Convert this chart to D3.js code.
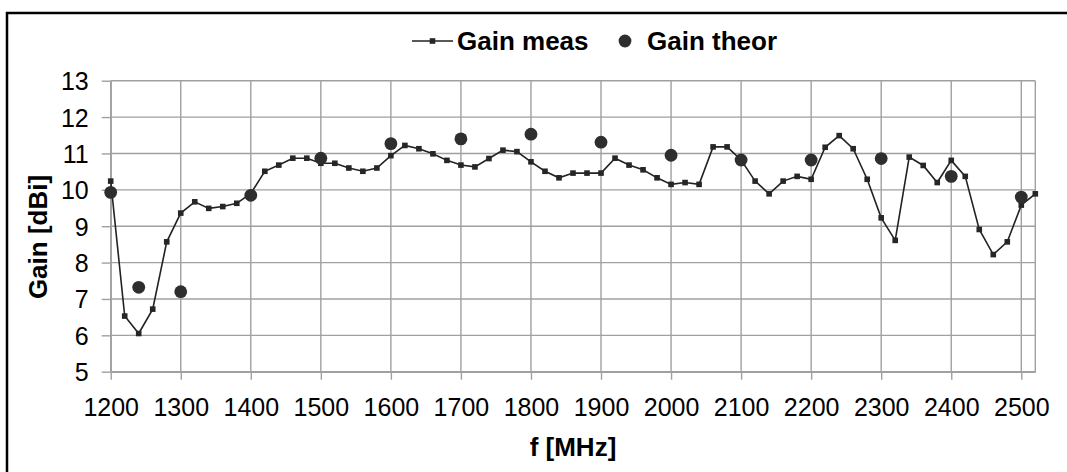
<!DOCTYPE html>
<html>
<head>
<meta charset="utf-8">
<script src="https://cdn.jsdelivr.net/npm/d3@7"></script>
<style>
	body { margin: 0; background: #fff; }
	svg { display: block; font-family: 'Liberation Sans', Arial, sans-serif; }
</style>
</head>
<body>
<div class="chart"></div>
<script>
// Data
const measFreq = d3.range(1200, 2521, 20);
const measGain = [
	10.24, 6.53, 6.05, 6.72, 8.57, 9.36, 9.67, 9.49, 9.54, 9.63,
	9.90, 10.51, 10.68, 10.87, 10.87, 10.73, 10.73, 10.60, 10.51, 10.60,
	10.94, 11.22, 11.13, 10.99, 10.81, 10.68, 10.63, 10.86, 11.09, 11.05,
	10.77, 10.51, 10.33, 10.46, 10.46, 10.46, 10.87, 10.68, 10.55, 10.33,
	10.15, 10.20, 10.15, 11.18, 11.18, 10.82, 10.24, 9.89, 10.24, 10.37,
	10.29, 11.17, 11.49, 11.13, 10.29, 9.23, 8.61, 10.90, 10.67, 10.20,
	10.81, 10.37, 8.91, 8.22, 8.57, 9.58, 9.89
];
const theorFreq = [1200, 1240, 1300, 1400, 1500, 1600, 1700, 1800, 1900, 2000, 2100, 2200, 2300, 2400, 2500];
const theorGain = [9.93, 7.32, 7.20, 9.85, 10.87, 11.27, 11.40, 11.53, 11.31, 10.95, 10.82, 10.82, 10.86, 10.37, 9.80];
const xTicks = d3.range(1200, 2501, 100);
const yTicks = d3.range(5, 14, 1);

const W = 1067, H = 472;
const plot = {left: 110.7, right: 1035.3, top: 80.7, bottom: 371.7};

const svg = d3.select('.chart').append('svg')
	.attr('width', W)
	.attr('height', H);

// outer frame
svg.append('rect')
	.attr('x', 7).attr('y', 13)
	.attr('width', W + 10).attr('height', H + 10)
	.attr('fill', 'none')
	.attr('stroke', '#000')
	.attr('stroke-width', 2.5);

const x = d3.scaleLinear().domain([1200, 2520]).range([plot.left, plot.right]);
const y = d3.scaleLinear().domain([5, 13]).range([plot.bottom, plot.top]);

const gridColor = '#a0a0a0';

// gridlines
svg.append('g')
	.selectAll('line')
	.data(yTicks)
	.join('line')
	.attr('x1', plot.left).attr('x2', plot.right)
	.attr('y1', d => y(d)).attr('y2', d => y(d))
	.attr('stroke', gridColor).attr('stroke-width', 1.4);

svg.append('g')
	.selectAll('line')
	.data(xTicks)
	.join('line')
	.attr('x1', d => x(d)).attr('x2', d => x(d))
	.attr('y1', plot.top).attr('y2', plot.bottom)
	.attr('stroke', gridColor).attr('stroke-width', 1.4);

// right border of plot area
svg.append('line')
	.attr('x1', plot.right).attr('x2', plot.right)
	.attr('y1', plot.top).attr('y2', plot.bottom)
	.attr('stroke', gridColor).attr('stroke-width', 1.4);

// axes
const xAxis = d3.axisBottom(x).tickValues(xTicks).tickFormat(d3.format('d'))
	.tickSizeInner(8).tickSizeOuter(0).tickPadding(19);
const yAxis = d3.axisLeft(y).tickValues(yTicks).tickFormat(d3.format('d'))
	.tickSizeInner(9).tickSizeOuter(0).tickPadding(13);

const xg = svg.append('g')
	.attr('transform', `translate(0, ${plot.bottom})`)
	.call(xAxis);
const yg = svg.append('g')
	.attr('transform', `translate(${plot.left}, 0)`)
	.call(yAxis);

[xg, yg].forEach(g => {
	g.select('.domain').attr('stroke', gridColor).attr('stroke-width', 1.4);
	g.selectAll('.tick line').attr('stroke', gridColor).attr('stroke-width', 1.4);
	g.selectAll('.tick text')
		.attr('fill', '#000')
		.style('font-size', '25px')
		.style('font-family', "'Liberation Sans', Arial, sans-serif");
});
xg.selectAll('.tick text').attr('dy', '0.71em');
yg.selectAll('.tick text').attr('dy', '0.36em');

// axis titles
svg.append('text')
	.attr('x', (plot.left + plot.right) / 2)
	.attr('y', 456)
	.attr('text-anchor', 'middle')
	.style('font-size', '26px')
	.style('font-weight', 'bold')
	.text('f [MHz]');

svg.append('text')
	.attr('transform', 'translate(47, 237) rotate(-90)')
	.attr('text-anchor', 'middle')
	.style('font-size', '26px')
	.style('font-weight', 'bold')
	.text('Gain [dBi]');

// measured line
const line = d3.line()
	.x((d, i) => x(measFreq[i]))
	.y(d => y(d));

svg.append('path')
	.datum(measGain)
	.attr('d', line)
	.attr('fill', 'none')
	.attr('stroke', '#222')
	.attr('stroke-width', 1.6);

const sq = 5.6;
svg.append('g')
	.selectAll('rect')
	.data(measGain)
	.join('rect')
	.attr('x', (d, i) => x(measFreq[i]) - sq / 2)
	.attr('y', d => y(d) - sq / 2)
	.attr('width', sq).attr('height', sq)
	.attr('fill', '#262626');

// theoretical points
svg.append('g')
	.selectAll('circle')
	.data(theorGain)
	.join('circle')
	.attr('cx', (d, i) => x(theorFreq[i]))
	.attr('cy', d => y(d))
	.attr('r', 6.4)
	.attr('fill', '#2e2e2e');

// legend
const legend = svg.append('g').attr('transform', 'translate(0, 41)');
legend.append('line')
	.attr('x1', 412).attr('x2', 453)
	.attr('y1', 0).attr('y2', 0)
	.attr('stroke', '#222').attr('stroke-width', 1.6);
legend.append('rect')
	.attr('x', 432.5 - sq / 2).attr('y', -sq / 2)
	.attr('width', sq).attr('height', sq)
	.attr('fill', '#262626');
legend.append('text')
	.attr('x', 457).attr('y', 9.3)
	.style('font-size', '26px')
	.style('font-weight', 'bold')
	.text('Gain meas');
legend.append('circle')
	.attr('cx', 625).attr('cy', 0)
	.attr('r', 6.4)
	.attr('fill', '#2e2e2e');
legend.append('text')
	.attr('x', 647).attr('y', 9.3)
	.style('font-size', '26px')
	.style('font-weight', 'bold')
	.text('Gain theor');
</script>
</body>
</html>
